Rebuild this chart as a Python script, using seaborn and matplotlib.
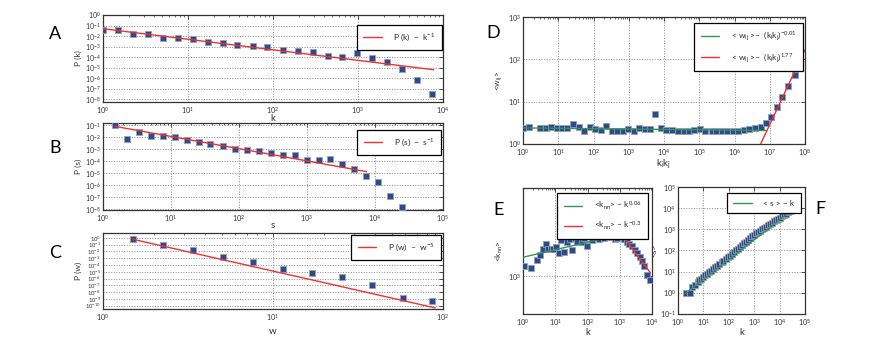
import numpy as np
import pandas as pd
import seaborn as sns
import matplotlib
matplotlib.use("Agg")
import matplotlib.pyplot as plt
from matplotlib.ticker import NullLocator, NullFormatter

sns.set_theme(style="white")
plt.rcParams.update({
    "mathtext.default": "regular",
    "axes.edgecolor": "#333333",
    "axes.linewidth": 0.9,
    "xtick.color": "#333333",
    "ytick.color": "#333333",
    "xtick.labelsize": 5.3,
    "ytick.labelsize": 5.3,
    "axes.labelcolor": "#333333",
})
plt.rcParams["font.family"] = ["Lato", "DejaVu Sans"]

BLUE = "#2c4a8e"
EDGE = "#98a0b4"
RED = "#f23030"
GREEN = "#33955a"

# A: degree distribution
a_k = [1, 1.5, 2.25, 3.4, 5.1, 7.6, 11.4, 17, 25.6, 38, 58, 86, 130, 195, 292, 438,
       657, 985, 1478, 2217, 3325, 4988, 7482]
a_p = [3.5e-2, 3.5e-2, 1.7e-2, 1.7e-2, 7.1e-3, 6.5e-3, 5.2e-3, 2.7e-3, 2.3e-3, 1.3e-3,
       1.1e-3, 8.9e-4, 4.6e-4, 4.2e-4, 3.2e-4, 1.4e-4, 9.5e-5, 2.3e-4, 7.6e-5, 3.2e-5,
       7.2e-6, 6.2e-7, 3.0e-8]
a_fit_k = [1, 7800]
a_fit_p = [5.0e-2, 6.4e-6]

# B: strength distribution
b_s = [1.5, 2.25, 3.4, 5.1, 7.6, 11.4, 17, 25.6, 38, 58, 86, 130, 195, 292, 438, 657,
       985, 1478, 2217, 3325, 4988, 7482, 11223, 16834, 25251]
b_p = [1.0e-1, 7.8e-3, 2.8e-2, 1.4e-2, 1.4e-2, 1.0e-2, 5.6e-3, 4.1e-3, 3.0e-3, 2.0e-3,
       1.05e-3, 9.3e-4, 6.8e-4, 4.6e-4, 3.5e-4, 3.1e-4, 1.26e-4, 1.2e-4, 1.45e-4, 5.9e-5,
       2.4e-5, 6.2e-6, 1.95e-6, 1.3e-7, 1.5e-8]
b_fit_s = [1.5, 7500]
b_fit_p = [8.3e-2, 1.4e-5]

# C: weight distribution
c_w = [1.5, 2.25, 3.4, 5.1, 7.6, 11.4, 17, 25.6, 38, 58, 86]
c_p = [0.8, 8.5e-2, 1.6e-2, 1.3e-3, 3.1e-4, 2.9e-5, 6.0e-6, 1.95e-6, 9.5e-8, 1.3e-9, 4.3e-10]
c_fit_w = [1.5, 90]
c_fit_p = [0.63, 4.6e-11]

# D: <w_ij> vs k_i k_j
d_kk = [1, 1.5, 3, 4.4, 6.3, 9.1, 13, 18, 26, 38, 54, 78, 110, 158, 229, 324, 468, 676,
        955, 1380, 1905, 2818, 4074, 5623, 8318, 11750, 16980, 24550, 36310, 50120,
        72440, 102300, 147900, 223900, 302000, 436500, 631000, 891300, 1.29e6, 1.86e6,
        2.63e6, 3.8e6, 5.5e6, 7.76e6, 1.1e7, 1.62e7, 2.29e7, 3.24e7, 5.25e7]
d_w = [2.34, 2.57, 2.34, 2.34, 2.48, 2.34, 2.43, 2.34, 2.92, 2.57, 2.07, 2.57, 2.26, 2.14,
       2.66, 2.07, 2.07, 2.07, 2.22, 2.07, 2.43, 2.22, 2.22, 5.02, 2.34, 2.14, 2.14, 2.07,
       2.07, 2.07, 2.14, 2.22, 2.07, 2.07, 2.07, 2.07, 2.07, 2.07, 2.07, 2.14, 2.22, 2.34,
       2.57, 3.19, 4.42, 7.35, 12.6, 23.4, 43.7]
d_fit1_kk = [1, 8.1e6]
d_fit1_w = [2.4, 2.08]
d_fit2_kk = [5.5e6, 1e8]
d_fit2_w = [1, 170]

# E: <k_nn> vs k
e_k = [1.05, 1.74, 2.8, 3.47, 4.2, 5.1, 6.0, 7.3, 8.6, 10.4, 12.9, 15.6, 19, 22.4, 28.5,
       33.6, 40.7, 48, 55.6, 66, 77.6, 94, 114, 135, 163, 194, 234, 276, 333, 398, 478,
       566, 690, 810, 986, 1150, 1380, 1660, 2000, 2390, 2880, 3400, 4140, 4880, 5760,
       6930, 8900]
e_knn = [1194, 1150, 1330, 1460, 1650, 1795, 1640, 1640, 1650, 1690, 1520, 1920, 1540,
         1850, 1970, 1620, 1990, 1850, 2115, 1880, 2000, 1740, 2090, 1950, 2070, 2130,
         1960, 2070, 2000, 2090, 2040, 2130, 1960, 2000, 2090, 2130, 1960, 1880, 1795,
         1720, 1620, 1520, 1415, 1310, 1210, 1025, 925]
e_fit1_k = [1, 1000]
e_fit1_knn = [1410, 2130]
e_fit2_k = [980, 8900]
e_fit2_knn = [2260, 1060]

# F: <s> vs k
f_k = [2, 3, 3.6, 4.8, 6, 7, 8, 10, 12, 14, 17, 20, 25, 30, 36, 43, 52, 62, 75, 90, 108,
       130, 156, 187, 225, 270, 324, 389, 467, 560, 672, 806, 968, 1160, 1390, 1670, 2000,
       2410, 2890, 3470, 4160, 5000, 6000, 7200, 8600, 10300, 12400, 14900, 17900, 21500,
       25800]
f_s = [1.0, 1.0, 1.9, 2.4, 3.3, 3.9, 4.4, 5.6, 6.7, 7.8, 9.4, 11, 13.5, 16, 19.5, 23, 28,
       33, 40, 48, 57, 70, 85, 102, 122, 150, 180, 215, 265, 318, 385, 460, 560, 650, 750,
       870, 1000, 1150, 1330, 1530, 1770, 2050, 2350, 2700, 3100, 3600, 4150, 4800, 5500,
       6300, 7100]
f_fit_k = [2, 25000]
f_fit_s = [0.95, 6500]

fig = plt.figure(figsize=(8.72, 3.40), dpi=100)


def panel(rect, x, y, fits, xlim, ylim, xexps, yexps, xlabel, ylabel, anchor,
          xpad=-1.0, ypad=2.0, ysize=5.3):
    ax = fig.add_axes(rect)
    ax.set(xscale="log", yscale="log")
    sns.scatterplot(x=x, y=y, ax=ax, marker="s", s=20, color=BLUE, edgecolor=EDGE,
                    linewidth=0.6, zorder=3, legend=False)
    for fx, fy, col, lab in fits:
        sns.lineplot(x=fx, y=fy, ax=ax, color=col, lw=1.0, label=lab, zorder=4,
                     sort=False, estimator=None)
    ax.set_xlim(*xlim)
    ax.set_ylim(*ylim)
    ax.set_xticks([10.0 ** e for e in xexps])
    ax.set_yticks([10.0 ** e for e in yexps])
    ax.yaxis.set_minor_locator(NullLocator())
    ax.yaxis.set_minor_formatter(NullFormatter())
    ax.xaxis.set_minor_formatter(NullFormatter())
    ax.grid(True, which="major", linestyle=":", color="#888888", lw=0.7)
    ax.tick_params(which="both", direction="in", top=True, right=True, pad=2)
    ax.tick_params(axis="y", labelsize=ysize, pad=1.5)
    ax.tick_params(which="major", length=3, width=0.6)
    ax.tick_params(which="minor", length=1.5, width=0.5)
    ax.set_xlabel(xlabel, fontsize=7, labelpad=xpad)
    ax.set_ylabel(ylabel, fontsize=6, labelpad=ypad)
    leg = ax.legend(loc="upper right", bbox_to_anchor=anchor, borderaxespad=0,
                    fancybox=False, edgecolor="black", framealpha=1, fontsize=6,
                    handlelength=2.2, handletextpad=1.4, borderpad=0.8, labelspacing=1.0)
    leg.get_frame().set_linewidth(0.9)
    leg.set_zorder(10)
    return ax


panel([0.1181, 0.700, 0.3899, 0.2559], a_k, a_p,
      [(a_fit_k, a_fit_p, RED, "P (k)  ~  k$^{-1}$")],
      (1, 1e4), (10 ** -8.25, 1), range(0, 5), range(-8, 1), "k", "P (k)", (0.997, 0.885),
      ysize=5.0)

panel([0.1181, 0.3824, 0.3899, 0.2559], b_s, b_p,
      [(b_fit_s, b_fit_p, RED, "P (s)  ~  s$^{-1}$")],
      (1, 1e5), (10 ** -8.05, 10 ** -0.8), range(0, 6), range(-8, 0), "s", "P (s)",
      (0.995, 0.92), xpad=-2.0, ysize=5.0)

panel([0.1181, 0.0912, 0.3899, 0.2235], c_w, c_p,
      [(c_fit_w, c_fit_p, RED, "P (w)  ~  w$^{-5}$")],
      (1, 100), (10 ** -10.5, 10 ** 0.73), range(0, 3), range(-10, 1), "w", "P (w)",
      (0.995, 0.974), xpad=3, ysize=4.2)

panel([0.5998, 0.5765, 0.3234, 0.3735], d_kk, d_w,
      [(d_fit1_kk, d_fit1_w, GREEN, "< w$_{ij}$ >~  (k$_i$k$_j$)$^{-0.01}$"),
       (d_fit2_kk, d_fit2_w, RED, "< w$_{ij}$ >~  (k$_i$k$_j$)$^{1.77}$")],
      (1, 1e8), (1, 1000), range(0, 9), range(0, 4), "k$_i$k$_j$", "<w$_{ij}$>",
      (0.993, 0.955), xpad=0)

panel([0.5998, 0.0765, 0.1479, 0.3706], e_k, e_knn,
      [(e_fit1_k, e_fit1_knn, GREEN, "<k$_{nn}$> ~ k$^{0.06}$"),
       (e_fit2_k, e_fit2_knn, RED, "<k$_{nn}$> ~ k$^{-0.3}$")],
      (1, 1e4), (500, 5000), range(0, 5), [3], "k", "<k$_{nn}$>", (0.969, 0.96),
      xpad=0)

panel([0.7775, 0.0765, 0.1456, 0.3735], f_k, f_s,
      [(f_fit_k, f_fit_s, GREEN, "< s > ~ k")],
      (1, 1e5), (0.1, 1e5), range(0, 6), range(-1, 6), "k", "<s>", (0.969, 0.953),
      xpad=0)

for letter, px, py in [("A", 55, 34), ("B", 55, 148), ("C", 55, 253),
                       ("D", 493, 33), ("E", 499, 210), ("F", 820, 209)]:
    fig.text(px / 872, 1 - py / 340, letter, fontsize=13, fontweight="normal",
             ha="center", va="center", color="black")

fig.savefig("out.png", dpi=100)
